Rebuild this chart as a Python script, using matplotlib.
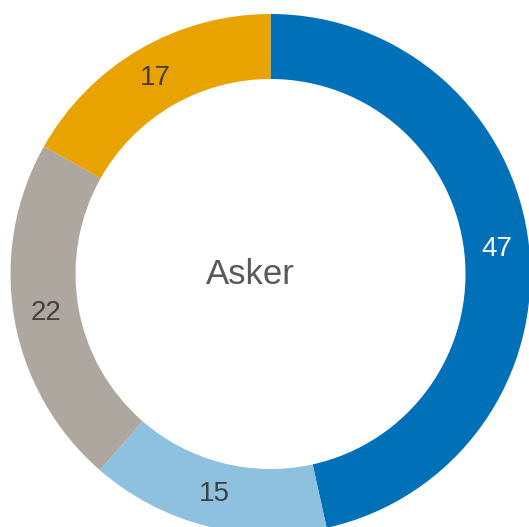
import numpy as np
import matplotlib.pyplot as plt

plt.rcParams['font.family'] = ['Liberation Sans', 'DejaVu Sans']

values = [47, 15, 22, 17]
colors = ['#0070B8', '#8DC1DF', '#ADA7A0', '#E8A300']
label_colors = ['white', '#404040', '#404040', '#404040']
center_text = 'Asker'

W, H = 529, 527
cx, cy, R = 270.5, 274, 260  # pixel centre and outer radius

fig = plt.figure(figsize=(W / 100, H / 100), dpi=100)
ax = fig.add_axes([0, 0, 1, 1])

ax.pie(values, colors=colors, startangle=90, counterclock=False, radius=1,
       wedgeprops=dict(width=0.25, linewidth=0))

# value labels in the middle of the ring
total = sum(values)
start = 90.0
for v, c in zip(values, label_colors):
    span = v / total * 360
    mid = np.deg2rad(start - span / 2)
    ax.text(0.875 * np.cos(mid), 0.875 * np.sin(mid), str(v), ha='center', va='center',
            fontsize=20, color=c)
    start -= span

ax.text(-0.076, 0.0, center_text, ha='center', va='center', fontsize=25, color='#595959')

ax.set_xlim(-cx / R, (W - cx) / R)
ax.set_ylim(-(H - cy) / R, cy / R)
ax.set_aspect('equal')
ax.axis('off')

fig.savefig('out.png', dpi=100)
